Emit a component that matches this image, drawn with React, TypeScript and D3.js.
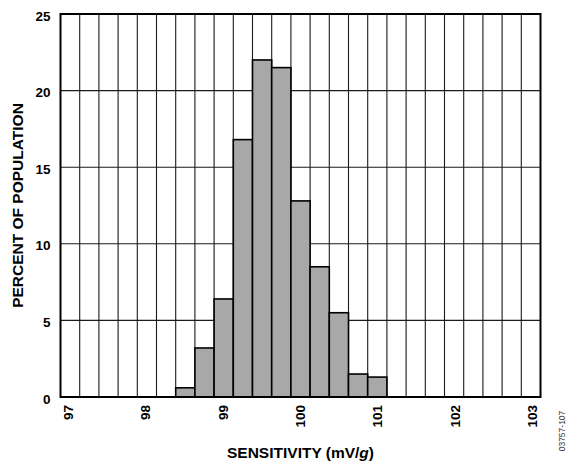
import React from "react";
import * as d3 from "d3";

const binCount = 25;
const xDomain: [number, number] = [97, 103];
const xTickValues = [97, 98, 99, 100, 101, 102, 103];
const yTickValues = [0, 5, 10, 15, 20, 25];
const barBins = [6, 7, 8, 9, 10, 11, 12, 13, 14, 15, 16];
const barValues = [0.6, 3.2, 6.4, 16.8, 22.0, 21.5, 12.8, 8.5, 5.5, 1.5, 1.3];
const yTitle = "PERCENT OF POPULATION";
const figId = "03757-107";

const W = 570;
const H = 465;
const m = { left: 60.5, right: 29.5, top: 14, bottom: 68 };
const FONT = "Arial, 'Liberation Sans', Helvetica, sans-serif";

export default function App() {
  const x = d3.scaleLinear().domain(xDomain).range([m.left, W - m.right]);
  const y = d3.scaleLinear().domain([0, 25]).range([H - m.bottom, m.top]);
  const binW = (xDomain[1] - xDomain[0]) / binCount;
  const binEdges = d3.range(binCount + 1).map((i) => xDomain[0] + i * binW);
  const xLabel = d3
    .scaleLinear()
    .domain(xDomain)
    .range([x(xDomain[0]) + 8, x(xDomain[1]) - 8]);

  return (
    <svg
      width={W}
      height={H}
      style={{ position: "absolute", left: 0, top: 0, background: "#fff" }}
      fontFamily={FONT}
    >
      {binEdges.slice(1, -1).map((v, i) => (
        <line
          key={"vg" + i}
          x1={x(v)}
          x2={x(v)}
          y1={y(25)}
          y2={y(0)}
          stroke="#1a1a1a"
          strokeWidth={1.1}
        />
      ))}
      {yTickValues.slice(1, -1).map((v) => (
        <line
          key={"hg" + v}
          x1={x(xDomain[0])}
          x2={x(xDomain[1])}
          y1={y(v)}
          y2={y(v)}
          stroke="#1a1a1a"
          strokeWidth={1.1}
        />
      ))}
      {barBins.map((b, i) => (
        <rect
          key={"b" + i}
          x={x(binEdges[b])}
          width={x(binEdges[b + 1]) - x(binEdges[b])}
          y={y(barValues[i])}
          height={y(0) - y(barValues[i])}
          fill="#a8a8a8"
          stroke="#000"
          strokeWidth={1.6}
        />
      ))}
      <rect
        x={x(xDomain[0])}
        y={y(25)}
        width={x(xDomain[1]) - x(xDomain[0])}
        height={y(0) - y(25)}
        fill="none"
        stroke="#000"
        strokeWidth={2}
      />
      {yTickValues.map((v) => (
        <text
          key={"yt" + v}
          x={x(xDomain[0]) - 10}
          y={y(v) + 2}
          textAnchor="end"
          dominantBaseline="central"
          fontSize={13.5}
          fontWeight="bold"
        >
          {v}
        </text>
      ))}
      {xTickValues.map((v) => (
        <text
          key={"xt" + v}
          transform={`translate(${xLabel(v)},${y(0) + 8}) rotate(-90)`}
          textAnchor="end"
          dominantBaseline="central"
          fontSize={13.5}
          fontWeight="bold"
        >
          {v}
        </text>
      ))}
      <text
        transform={`translate(17.5,${(y(0) + y(25)) / 2}) rotate(-90)`}
        textAnchor="middle"
        dominantBaseline="central"
        fontSize={15.5}
        fontWeight="bold"
      >
        {yTitle}
      </text>
      <text
        x={(x(xDomain[0]) + x(xDomain[1])) / 2}
        y={458}
        textAnchor="middle"
        fontSize={15.5}
        fontWeight="bold"
      >
        SENSITIVITY (mV/<tspan fontStyle="italic">g</tspan>)
      </text>
      <text
        transform={`translate(562,431) rotate(-90)`}
        textAnchor="middle"
        dominantBaseline="central"
        fontSize={8.5}
        fill="#333"
      >
        {figId}
      </text>
    </svg>
  );
}
